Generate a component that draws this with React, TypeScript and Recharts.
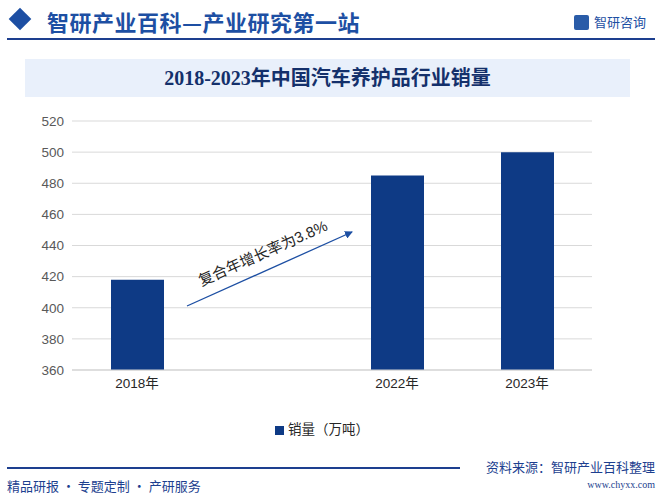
import React from "react"
import { BarChart, Bar, XAxis, YAxis, CartesianGrid, Legend } from "recharts"

const years = ["2018年", "", "2022年", "2023年"]
const sales = [418, null, 485, 500]
const yTicks = [360, 380, 400, 420, 440, 460, 480, 500, 520]

const data = years.map((y, i) => ({ year: y, sales: sales[i], key: `c${i}` }))

const BLUE = "#0e3a85"
const NUM = "Arial, 'Liberation Sans', 'Noto Sans CJK SC', sans-serif"

export default function App() {
  return (
    <div style={{ position: "absolute", left: 0, top: 0, width: 661, height: 501, background: "#fff", overflow: "hidden", fontFamily: NUM }}>
      {/* header */}
      <div style={{ position: "absolute", left: 12, top: 11, width: 16, height: 16, background: "#1d4fa3", transform: "rotate(45deg)" }} />
      <div style={{ position: "absolute", left: 47, top: 5, fontSize: 22, fontWeight: "bold", color: "#1d4fa3", fontFamily: "'Noto Sans CJK SC', sans-serif", letterSpacing: 0.5 }}>
        智研产业百科—产业研究第一站
      </div>
      <div style={{ position: "absolute", left: 574, top: 15, width: 15, height: 15, background: "#2a5ca8", borderRadius: 2 }} />
      <div style={{ position: "absolute", left: 594, top: 12, fontSize: 13, color: "#1d4fa3", fontFamily: "'Noto Sans CJK SC', sans-serif" }}>智研咨询</div>
      <div style={{ position: "absolute", left: 7, top: 38, width: 648, height: 2, background: "#1d3f8f" }} />

      {/* title banner */}
      <div style={{ position: "absolute", left: 25, top: 59, width: 605, height: 38, background: "#e9f0fb" }} />
      <div style={{ position: "absolute", left: 25, top: 59, width: 605, height: 38, lineHeight: "38px", textAlign: "center", fontSize: 20, fontWeight: "bold", color: "#14306b", fontFamily: "'Liberation Serif', 'Noto Sans CJK SC', serif" }}>
        2018-2023年中国汽车养护品行业销量
      </div>

      <div style={{ position: "absolute", left: 0, top: 0 }}>
        <BarChart width={661} height={501} data={data} margin={{ top: 121, right: 69, bottom: 71, left: 20 }}>
          <CartesianGrid vertical={false} stroke="#d9d9d9" />
          <XAxis
            dataKey="key"
            tickFormatter={(v: string, i: number) => years[i]}
            tickLine={false}
            axisLine={{ stroke: "#d0d0d0" }}
            tick={{ fill: "#262626", fontSize: 13.5, fontFamily: NUM }}
            interval={0}
            height={40}
          />
          <YAxis
            domain={[360, 520]}
            ticks={yTicks}
            tickLine={false}
            axisLine={false}
            width={52}
            tick={{ fill: "#595959", fontSize: 13.5, fontFamily: NUM }}
          />
          <Legend
            verticalAlign="bottom"
            align="center"
            iconType="square"
            iconSize={9}
            wrapperStyle={{ fontSize: 13.5, color: "#262626", fontFamily: NUM, top: 418, bottom: "auto", left: 260, width: 134 }}
            formatter={() => <span style={{ color: "#262626" }}>销量（万吨）</span>}
          />
          <Bar dataKey="sales" name="销量（万吨）" fill={BLUE} barSize={53} isAnimationActive={false} />
        </BarChart>
      </div>

      {/* CAGR annotation */}
      <svg style={{ position: "absolute", left: 0, top: 0 }} width={661} height={501}>
        <defs>
          <marker id="ah" markerWidth="8" markerHeight="8" refX="7" refY="4" orient="auto" markerUnits="userSpaceOnUse">
            <path d="M0,0 L8,4 L0,8 Z" fill="#1d4fa3" />
          </marker>
        </defs>
        <line x1={187} y1={306} x2={352} y2={232} stroke="#1d4fa3" strokeWidth={1.3} markerEnd="url(#ah)" />
        <text x={265} y={258} transform="rotate(-24 265 258)" textAnchor="middle" fontSize={15} fill="#262626" fontFamily={NUM}>
          复合年增长率为3.8%
        </text>
      </svg>

      {/* footer */}
      <div style={{ position: "absolute", left: 7, top: 467, width: 453, height: 1.5, background: "#1d3f8f" }} />
      <div style={{ position: "absolute", left: 7, top: 476, fontSize: 13, color: "#1d3f8f", fontFamily: "'Noto Sans CJK SC', sans-serif" }}>精品研报 · 专题定制 · 产研服务</div>
      <div style={{ position: "absolute", right: 6, top: 457, fontSize: 13, color: "#1d3f8f", fontFamily: "'Noto Sans CJK SC', sans-serif" }}>资料来源：智研产业百科整理</div>
      <div style={{ position: "absolute", right: 6, top: 479, fontSize: 10, color: "#1d3f8f", fontFamily: "'Liberation Serif', serif" }}>www.chyxx.com</div>
    </div>
  )
}
